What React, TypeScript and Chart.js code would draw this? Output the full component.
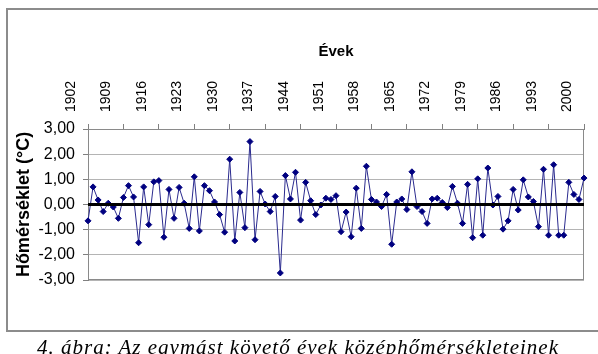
import React, { useEffect, useRef } from 'react';
import { Chart, registerables } from 'chart.js';

Chart.register(...registerables);

// Years on the category axis
const years: string[] = Array.from({ length: 99 }, (_, i) => String(1902 + i));

// Yearly mean temperature deviation (°C), 1902–2000
const temps: number[] = [
  -0.65, 0.70, 0.18, -0.28, 0.05, -0.10, -0.55, 0.28, 0.75, 0.30,
  -1.52, 0.70, -0.80, 0.90, 0.95, -1.30, 0.60, -0.55, 0.68, 0.05,
  -0.95, 1.10, -1.05, 0.75, 0.55, 0.10, -0.40, -1.10, 1.80, -1.45,
  0.48, -0.92, 2.50, -1.40, 0.52, 0.02, -0.28, 0.32, -2.72, 1.15,
  0.22, 1.28, -0.62, 0.88, 0.15, -0.40, -0.02, 0.25, 0.20, 0.35,
  -1.08, -0.30, -1.28, 0.65, -0.95, 1.52, 0.20, 0.10, -0.08, 0.40,
  -1.58, 0.10, 0.22, -0.20, 1.30, -0.08, -0.28, -0.75, 0.22, 0.25,
  0.08, -0.12, 0.72, 0.05, -0.75, 0.80, -1.32, 1.02, -1.22, 1.45,
  -0.02, 0.32, -0.98, -0.65, 0.60, -0.22, 0.98, 0.30, 0.12, -0.88,
  1.40, -1.22, 1.58, -1.22, -1.22, 0.88, 0.40, 0.20, 1.05,
];

// Labelled years along the top axis
const tickYears: string[] = [
  '1902', '1909', '1916', '1923', '1930', '1937', '1944', '1951',
  '1958', '1965', '1972', '1979', '1986', '1993', '2000',
];

// Reference (mean) line
const baselineYears: string[] = ['1902', '2000'];
const baselineValues: number[] = [0, 0];

const yMin = -3;
const yMax = 3;
const yStep = 1;

const SANS = '"Liberation Sans", Arial, sans-serif';

const plotFrame = {
  id: 'plotFrame',
  beforeDatasetsDraw(chart: any) {
    const { ctx, chartArea: a } = chart;
    ctx.save();
    ctx.strokeStyle = '#8a8a8a';
    ctx.lineWidth = 1;
    ctx.strokeRect(a.left + 0.5, a.top + 0.5, a.right - a.left - 1, a.bottom - a.top - 1);
    ctx.restore();
  },
};

export default function App() {
  const ref = useRef<HTMLCanvasElement | null>(null);

  useEffect(() => {
    if (!ref.current) return;
    const chart = new Chart(ref.current, {
      type: 'line',
      data: {
        labels: years,
        datasets: [
          {
            label: 'átlag',
            data: baselineYears.map((y, i) => ({ x: y, y: baselineValues[i] })) as any,
            borderColor: '#000000',
            borderWidth: 3,
            pointRadius: 0,
          },
          {
            label: 'Hőmérséklet',
            data: temps,
            borderColor: '#2a2a8e',
            borderWidth: 1,
            pointStyle: 'rectRot',
            pointRadius: 3,
            pointBackgroundColor: '#000080',
            pointBorderColor: '#000080',
            pointBorderWidth: 1,
          },
        ],
      },
      options: {
        animation: false,
        responsive: false,
        layout: { padding: { left: 0, right: 14, top: 0, bottom: 74 } },
        plugins: { legend: { display: false }, tooltip: { enabled: false } },
        scales: {
          x: {
            type: 'category',
            position: 'top',
            offset: false,
            grid: {
              drawOnChartArea: false,
              tickLength: 5,
              color: (c: any) => (tickYears.includes(years[c.index]) ? '#808080' : 'rgba(0,0,0,0)'),
            },
            border: { color: '#808080' },
            ticks: {
              autoSkip: false,
              maxRotation: 90,
              minRotation: 90,
              padding: 12,
              color: '#000',
              font: { family: SANS, size: 14 },
              callback: (_v: any, i: number) => (tickYears.includes(years[i]) ? years[i] : ''),
            },
            title: {
              display: true,
              text: 'Évek',
              color: '#000',
              font: { family: SANS, size: 15, weight: 'bold' },
              padding: { top: 43, bottom: 0 },
            },
            afterFit: (s: any) => {
              s.height = 129;
            },
          },
          y: {
            min: yMin,
            max: yMax,
            ticks: {
              stepSize: yStep,
              padding: 8,
              color: '#000',
              font: { family: SANS, size: 16 },
              callback: (v: any) => Number(v).toFixed(2).replace('.', ','),
            },
            grid: { color: '#b4b4b4', tickLength: 5, tickColor: '#808080' },
            border: { color: '#808080' },
            title: {
              display: true,
              text: 'Hőmérséklet (°C)',
              color: '#000',
              font: { family: SANS, size: 18, weight: 'bold' },
              padding: { top: 13, bottom: 0 },
            },
            afterFit: (s: any) => {
              s.width = 88;
            },
          },
        },
      } as any,
      plugins: [plotFrame],
    });
    return () => chart.destroy();
  }, []);

  return (
    <div
      style={{
        position: 'fixed',
        left: 0,
        top: 0,
        width: 598,
        height: 354,
        overflow: 'hidden',
        background: '#fff',
      }}
    >
      <div
        style={{
          position: 'absolute',
          left: 6,
          top: 8,
          width: 640,
          height: 324,
          boxSizing: 'border-box',
          border: '2px solid #8c8c8c',
        }}
      />
      <canvas ref={ref} width={598} height={354} style={{ position: 'absolute', left: 0, top: 0 }} />
      <div
        style={{
          position: 'absolute',
          left: 37,
          top: 335,
          fontFamily: '"Liberation Serif", "DejaVu Serif", serif',
          fontStyle: 'italic',
          fontSize: 21,
          letterSpacing: 1,
          lineHeight: '24px',
          whiteSpace: 'nowrap',
          color: '#000',
        }}
      >
        4. ábra: Az egymást követő évek középhőmérsékleteinek
      </div>
    </div>
  );
}
